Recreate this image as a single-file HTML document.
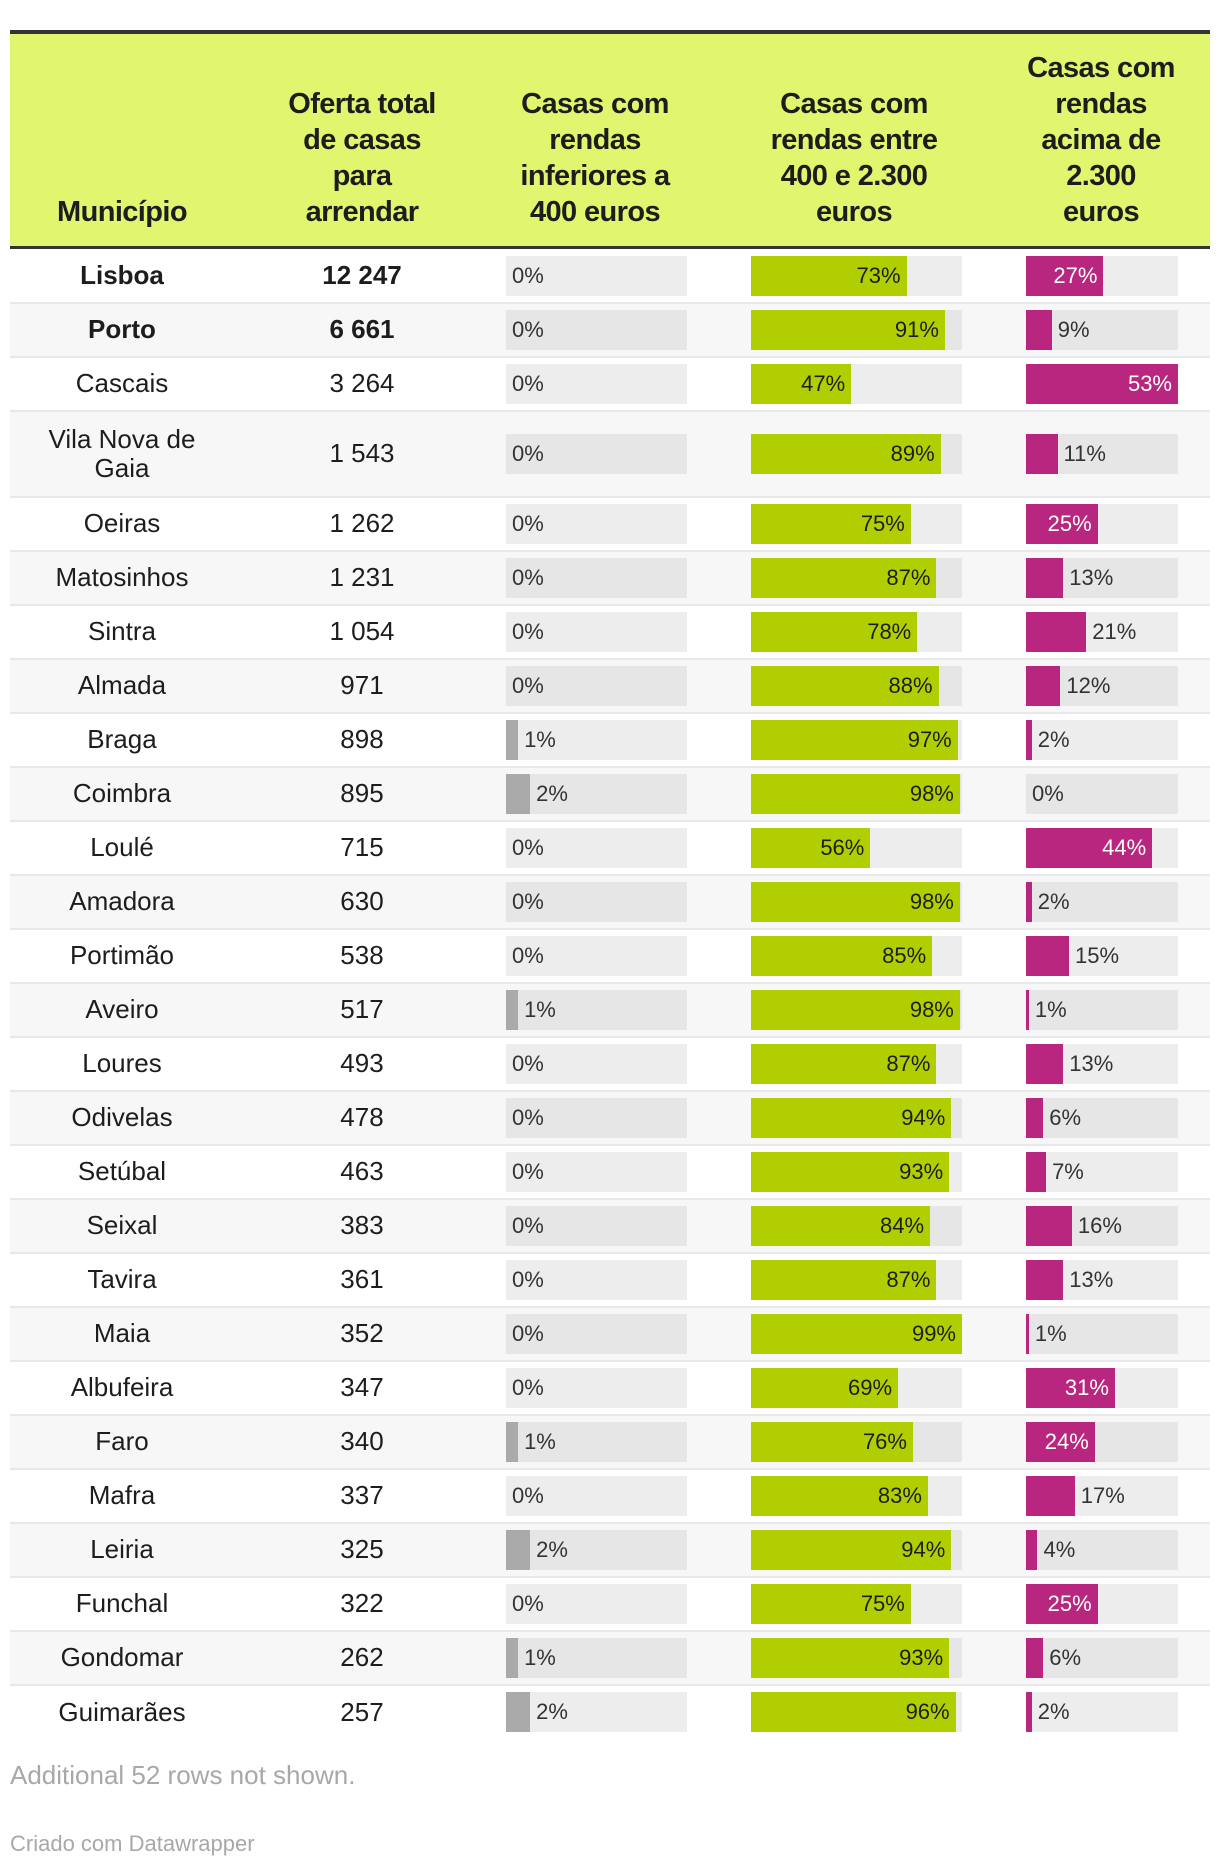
<!DOCTYPE html>
<html><head><meta charset="utf-8">
<style>
html,body{margin:0;padding:0;background:#fff;}
body{width:1220px;height:1864px;position:relative;overflow:hidden;font-family:"Liberation Sans",sans-serif;color:#1d1d1d;}
#topline{position:absolute;left:10px;top:30px;width:1200px;height:4px;background:#333;}
#header{position:absolute;left:10px;top:34px;width:1200px;height:212px;background:#e1f56f;}
#headline{position:absolute;left:10px;top:246px;width:1200px;height:3px;background:#333;}
.hd{position:absolute;bottom:16px;text-align:center;font-weight:bold;font-size:29px;line-height:36px;letter-spacing:-0.6px;white-space:nowrap;transform:translateX(-50%);}
.row{position:absolute;left:10px;width:1200px;border-bottom:2px solid #e8e8e8;box-sizing:border-box;}
.row.last{border-bottom:none;}
.cell{position:absolute;top:0;height:100%;display:flex;align-items:center;justify-content:center;text-align:center;font-size:26px;line-height:29px;}
.track{position:absolute;height:40px;background:#ebebeb;}
.bar{position:absolute;left:0;top:0;height:40px;}
.lbl{position:absolute;top:0;height:40px;line-height:40px;font-size:22px;white-space:nowrap;}
.foot{position:absolute;left:10px;color:#a8a8a8;}
</style></head><body>
<div id="topline"></div>
<div id="header">
  <div class="hd" style="left:112px">Município</div>
  <div class="hd" style="left:352px">Oferta total<br>de casas<br>para<br>arrendar</div>
  <div class="hd" style="left:585px">Casas com<br>rendas<br>inferiores a<br>400 euros</div>
  <div class="hd" style="left:844px">Casas com<br>rendas entre<br>400 e 2.300<br>euros</div>
  <div class="hd" style="left:1091px">Casas com<br>rendas<br>acima de<br>2.300<br>euros</div>
</div>
<div id="headline"></div>
<div id="rows"></div>
<div class="foot" style="top:1760px;font-size:26px">Additional 52 rows not shown.</div>
<div class="foot" style="top:1831px;font-size:22px">Criado com Datawrapper</div>
<script>
const municipios=["Lisboa","Porto","Cascais","Vila Nova de Gaia","Oeiras","Matosinhos","Sintra","Almada","Braga","Coimbra","Loulé","Amadora","Portimão","Aveiro","Loures","Odivelas","Setúbal","Seixal","Tavira","Maia","Albufeira","Faro","Mafra","Leiria","Funchal","Gondomar","Guimarães"];
const oferta=["12 247","6 661","3 264","1 543","1 262","1 231","1 054","971","898","895","715","630","538","517","493","478","463","383","361","352","347","340","337","325","322","262","257"];
const abaixo400=[0,0,0,0,0,0,0,0,1,2,0,0,0,1,0,0,0,0,0,0,0,1,0,2,0,1,2];
const entre400e2300=[73,91,47,89,75,87,78,88,97,98,56,98,85,98,87,94,93,84,87,99,69,76,83,94,75,93,96];
const acima2300=[27,9,53,11,25,13,21,12,2,0,44,2,15,1,13,6,7,16,13,1,31,24,17,4,25,6,2];
const boldRows=[0,1];
const cols=[
 {vals:abaixo400,x:496,w:181,max:15,color:"#aaaaaa",inside:999,name:"abaixo-400"},
 {vals:entre400e2300,x:741,w:211,max:99,color:"#b1cf00",inside:20,name:"entre-400-2300",ink:"#1d1d1d"},
 {vals:acima2300,x:1016,w:152,max:53,color:"#b8267f",inside:22,name:"acima-2300",ink:"#fff"}
];
function scaleX(v,c){return v/c.max*c.w;}
const body=document.getElementById('rows');
let y=249.5;
municipios.forEach((m,i)=>{
  const h=(m.length>14)?86:54.0;
  const r=document.createElement('div');
  
  
  r.className='row'+(i===municipios.length-1?' last':'');
  r.style.top=y+'px';r.style.height=h+'px';
  r.style.background=i%2?'#f7f7f7':'#fff';
  const bold=boldRows.includes(i);
  const c1=document.createElement('div');
  
  
  c1.className='cell';c1.style.left='0px';c1.style.width='224px';
  if(bold)c1.style.fontWeight='bold';
  c1.innerHTML=m.length>14?'Vila Nova de<br>Gaia':m;
  r.appendChild(c1);
  const c2=document.createElement('div');
  
  
  c2.className='cell';c2.style.left='252px';c2.style.width='200px';
  if(bold)c2.style.fontWeight='bold';
  c2.textContent=oferta[i];
  r.appendChild(c2);
  cols.forEach(c=>{
    const v=c.vals[i];
    const t=document.createElement('div');
    
    
    t.className='track';t.style.left=c.x+'px';t.style.width=c.w+'px';
    t.style.top=((h-2-40)/2)+'px';
    t.style.background=i%2?'#e6e6e6':'#ededed';
    const bw=Math.min(scaleX(v,c),c.w);
    const b=document.createElement('div');
    
    
    b.className='bar';b.style.width=bw+'px';b.style.background=c.color;
    t.appendChild(b);
    const l=document.createElement('div');
    
    
    l.className='lbl';l.textContent=v+'%';
    if(v>=c.inside){l.style.right=(c.w-bw+6)+'px';l.style.color=c.ink;}
    else{l.style.left=(bw+6)+'px';l.style.color='#333';}
    t.appendChild(l);
    r.appendChild(t);
  });
  body.appendChild(r);
  y+=h;
});
</script>
</body></html>
